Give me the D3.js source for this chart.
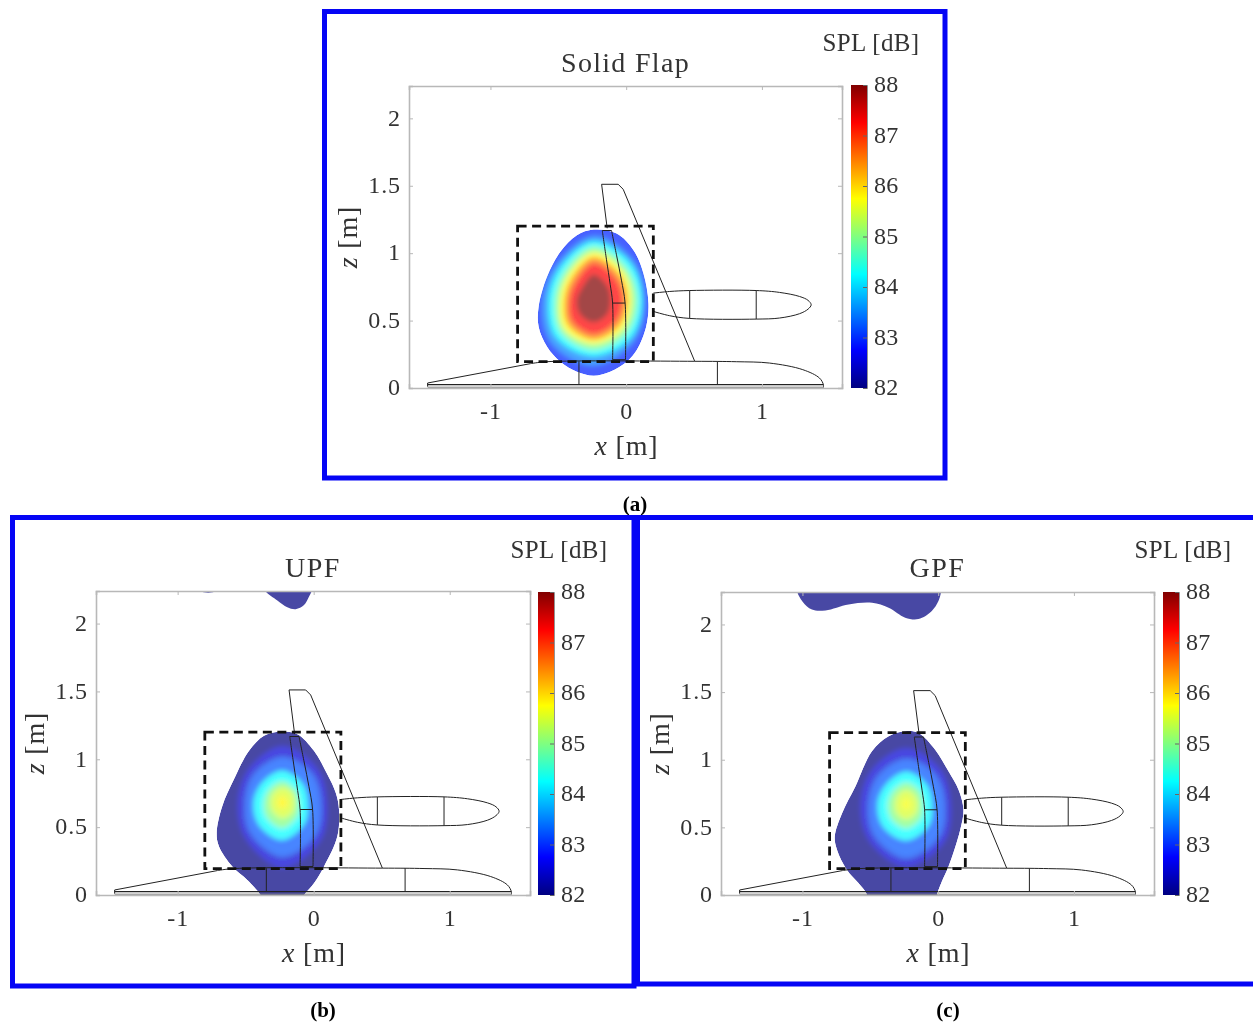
<!DOCTYPE html>
<html>
<head>
<meta charset="utf-8">
<script src="https://cdn.jsdelivr.net/npm/d3@7"></script>
<style>
html,body{margin:0;padding:0;background:#fff;overflow:hidden}
svg{display:block;filter:blur(0.4px)}
text{font-family:"Liberation Serif",serif;fill:#333}
</style>
</head>
<body>
<div id="chart"></div>
<script>
// ---------- values ----------
const titles = ["Solid Flap", "UPF", "GPF"];
const captions = ["(a)", "(b)", "(c)"];
const xTicks = [-1, 0, 1];
const zTicks = [0, 0.5, 1, 1.5, 2];
const barTicks = [82, 83, 84, 85, 86, 87, 88];
const xDomain = [-1.6, 1.59];
const zDomain = [0, 2.24];
const barDomain = [82, 88];
// jet colormap anchors
const jetLevels = [82, 82.75, 84.25, 85.75, 87.25, 88];
const jetColors = ["#000080", "#0000ff", "#00ffff", "#ffff00", "#ff0000", "#800000"];

// region of interest box [x0, x1, z0, z1]
const roiBox = [-0.8, 0.2, 0.195, 1.2];

// aircraft outline, metres
const finLine = [[-0.14,1.185],[-0.181,1.511],[-0.059,1.511],[-0.022,1.474],[0.505,0.198]];
const rudderLeftEdge = [[-0.176,1.168],[-0.145,0.951],[-0.118,0.77],[-0.10,0.63],[-0.10,0.21]];
const rudderRightEdge = [[-0.108,1.168],[-0.07,0.98],[-0.035,0.80],[-0.008,0.63],[-0.005,0.21]];
const rudderTop = [[-0.176,1.168],[-0.108,1.168]];
const rudderFoot = [[-0.10,0.21],[-0.005,0.21]];
const rudderHinge = [[-0.10,0.63],[-0.008,0.63]];
const nacelle = [[0.2,0.704],[0.321,0.716],[0.468,0.723],[0.958,0.723],[1.13,0.709],[1.277,0.679],[1.34,0.65],[1.363,0.617],[1.34,0.585],[1.277,0.551],[1.13,0.519],[0.958,0.511],[0.468,0.516],[0.321,0.536],[0.2,0.568]];
const nacelleRibs = [[[0.468,0.723],[0.468,0.516]],[[0.958,0.723],[0.958,0.511]]];
const noseLine = [[-1.463,0.01],[-1.463,0.037],[-0.708,0.18]];
const fuselage = [[-0.708,0.18],[-0.586,0.195],[0.505,0.198],[0.811,0.195],[1.056,0.185],[1.301,0.136],[1.424,0.074],[1.453,0.025],[1.453,0.003]];
const fuselageRibs = [[[-0.348,0.198],[-0.348,0.025]],[[0.672,0.198],[0.672,0.025]]];
const fuselageBase = [[-1.463,0.025],[1.453,0.025]];
const fuselageFloor = [[-1.463,0.006],[1.453,0.006]];

// blob outlines, metres
const outlineA = [[-0.24,1.175],[-0.07,1.146],[0.054,1.022],[0.127,0.85],[0.164,0.627],[0.147,0.454],[0.078,0.281],[0.005,0.195],[-0.118,0.121],[-0.24,0.091],[-0.363,0.121],[-0.485,0.195],[-0.583,0.306],[-0.645,0.454],[-0.645,0.602],[-0.583,0.825],[-0.485,1.01],[-0.363,1.133]];
const outlineB = [[-0.243,1.202],[-0.12,1.185],[0.002,1.062],[0.10,0.889],[0.162,0.753],[0.186,0.63],[0.174,0.432],[0.076,0.21],[0.002,0.086],[-0.071,0],[-0.10,-0.05],[-0.37,-0.05],[-0.39,0],[-0.488,0.111],[-0.598,0.21],[-0.696,0.358],[-0.713,0.457],[-0.672,0.654],[-0.586,0.852],[-0.475,1.062],[-0.365,1.173]];
const outlineC = [[-0.243,1.21],[-0.145,1.198],[-0.022,1.074],[0.076,0.914],[0.15,0.778],[0.186,0.63],[0.162,0.481],[0.076,0.21],[0.027,0.099],[-0.01,0],[-0.02,-0.05],[-0.54,-0.05],[-0.525,0],[-0.586,0.086],[-0.672,0.185],[-0.745,0.333],[-0.762,0.432],[-0.708,0.605],[-0.61,0.802],[-0.488,1.062],[-0.365,1.173]];

// upper blobs in b and c
const upperB1 = [[-0.365,2.30],[-0.365,2.252],[-0.267,2.17],[-0.194,2.12],[-0.132,2.106],[-0.071,2.136],[-0.034,2.2],[-0.01,2.252],[-0.01,2.30]];
const upperB2 = [[-0.843,2.30],[-0.843,2.245],[-0.775,2.228],[-0.708,2.245],[-0.708,2.30]];
const upperC1 = [[-1.04,2.30],[-1.04,2.247],[-1.0,2.17],[-0.93,2.11],[-0.83,2.104],[-0.66,2.148],[-0.487,2.16],[-0.365,2.123],[-0.243,2.05],[-0.145,2.04],[-0.047,2.1],[0.002,2.173],[0.022,2.247],[0.022,2.30]];

// peak centres, contour levels, contour radii at 8 compass directions (E, NE, N, NW, W, SW, S, SE)
const ringBearings = [0, 45, 90, 135, 180, 225, 270, 315];
const centreA = [-0.24, 0.652];
const centreB = [-0.23, 0.684];
const centreC = [-0.235, 0.674];
const baseLevelA = 82.95, baseLevelB = 82, baseLevelC = 82;
const levelsA = [83.5, 84.25, 85, 85.75, 86.5, 87.25, 88];
const ringsA = [
  [.385,.42,.48,.385,.38,.45,.49,.43],
  [.355,.385,.435,.345,.33,.39,.415,.39],
  [.32,.34,.395,.30,.285,.34,.37,.345],
  [.28,.305,.355,.265,.25,.305,.325,.305],
  [.25,.27,.32,.23,.215,.265,.295,.27],
  [.22,.235,.28,.195,.185,.23,.26,.235],
  [.125,.145,.19,.125,.125,.145,.165,.145]
];
const levelsB = [82.5, 83.25, 84.25, 85, 85.5, 85.8];
const ringsB = [
  [.33,.36,.415,.35,.33,.385,.486,.40],
  [.28,.30,.33,.29,.27,.325,.40,.34],
  [.185,.20,.23,.205,.21,.24,.277,.225],
  [.12,.13,.153,.135,.135,.16,.19,.15],
  [.09,.10,.11,.095,.09,.10,.12,.105],
  [.04,.04,.05,.04,.04,.045,.05,.045]
];
const levelsC = [82.5, 83.25, 84.25, 85, 85.5, 85.7];
const ringsC = [
  [.33,.36,.415,.36,.34,.39,.47,.40],
  [.28,.30,.33,.29,.275,.33,.40,.34],
  [.19,.205,.235,.205,.21,.24,.27,.23],
  [.12,.135,.155,.135,.135,.155,.18,.15],
  [.085,.09,.105,.09,.085,.10,.115,.10],
  [.035,.035,.045,.035,.035,.04,.045,.04]
];

// ---------- layout ----------
const W = 1253, H = 1024;
const layouts = [
  {frame:[324.5,11.5,945,478], plot:[409,842,388,86], barX:851, titleY:72, splX:871, splY:51, cap:[635,511]},
  {frame:[12.5,517.5,634,986], plot:[96,530,895,591], barX:538, titleY:577, splX:559, splY:558, cap:[323,1017]},
  {frame:[637.5,517.5,1256,984], plot:[721,1154,895,592], barX:1163, titleY:577, splX:1183, splY:558, cap:[948,1017]}
];
const panelData = [
  {centre:centreA, base:baseLevelA, levels:levelsA, rings:ringsA, outline:outlineA, extras:[]},
  {centre:centreB, base:baseLevelB, levels:levelsB, rings:ringsB, outline:outlineB, extras:[upperB1, upperB2]},
  {centre:centreC, base:baseLevelC, levels:levelsC, rings:ringsC, outline:outlineC, extras:[upperC1]}
];
const blobOpacity = 0.72;

const jet = d3.scaleLinear().domain(jetLevels).range(jetColors).clamp(true);

const svg = d3.select("#chart").append("svg").attr("width", W).attr("height", H);
const defs = svg.append("defs");
const blur = defs.append("filter").attr("id","soft").attr("x","-30%").attr("y","-30%").attr("width","160%").attr("height","160%");
blur.append("feGaussianBlur").attr("stdDeviation", 2.8);
const grad = defs.append("linearGradient").attr("id","jetBar").attr("x1",0).attr("x2",0).attr("y1",1).attr("y2",0);
grad.selectAll("stop").data(jetLevels).join("stop")
  .attr("offset", d => (d-barDomain[0])/(barDomain[1]-barDomain[0]))
  .attr("stop-color", d => jet(d));

titles.forEach((title, i) => {
  const L = layouts[i], P = panelData[i];
  const [px0, px1, py0, py1] = L.plot;
  const x = d3.scaleLinear().domain(xDomain).range([px0, px1]);
  const z = d3.scaleLinear().domain(zDomain).range([py0, py1]);
  const g = svg.append("g");

  // frame
  g.append("rect")
    .attr("x", L.frame[0]).attr("y", L.frame[1])
    .attr("width", L.frame[2]-L.frame[0]).attr("height", L.frame[3]-L.frame[1])
    .attr("fill","none").attr("stroke","#0505f5").attr("stroke-width",5);

  // clips
  const plotClip = "plot"+i, blobClip = "blob"+i;
  defs.append("clipPath").attr("id",plotClip).append("rect")
    .attr("x",px0).attr("y",py1).attr("width",px1-px0).attr("height",py0-py1);
  const smooth = d3.line().x(d=>x(d[0])).y(d=>z(d[1])).curve(d3.curveCatmullRomClosed.alpha(0.5));
  const open = d3.line().x(d=>x(d[0])).y(d=>z(d[1])).curve(d3.curveLinear);
  const soft = d3.line().x(d=>x(d[0])).y(d=>z(d[1])).curve(d3.curveCatmullRom.alpha(0.5));
  defs.append("clipPath").attr("id",blobClip).append("path").attr("d",smooth(P.outline));

  // field
  const field = g.append("g").attr("clip-path",`url(#${plotClip})`).attr("opacity",blobOpacity);
  const blob = field.append("g").attr("clip-path",`url(#${blobClip})`);
  blob.append("path").attr("d",smooth(P.outline)).attr("fill",jet(P.base));
  const ringGroup = blob.append("g").attr("filter","url(#soft)");
  ringGroup.selectAll("path").data(P.rings).join("path")
    .attr("fill",(d,k)=>jet(P.levels[k]))
    .attr("d",radii=>smooth(radii.map((r,k)=>{
      const a = ringBearings[k]*Math.PI/180;
      return [P.centre[0]+r*Math.cos(a), P.centre[1]+r*Math.sin(a)];
    })));
  field.selectAll("path.extra").data(P.extras).join("path")
    .attr("class","extra").attr("d",soft).attr("fill",jet(82));

  // aircraft
  const craft = g.append("g").attr("clip-path",`url(#${plotClip})`)
    .attr("fill","none").attr("stroke","#222").attr("stroke-width",1);
  craft.append("path").attr("d",open(finLine));
  craft.append("path").attr("d",soft(rudderLeftEdge));
  craft.append("path").attr("d",soft(rudderRightEdge));
  craft.append("path").attr("d",open(rudderTop));
  craft.append("path").attr("d",open(rudderFoot));
  craft.append("path").attr("d",open(rudderHinge));
  craft.append("path").attr("d",soft(nacelle));
  nacelleRibs.forEach(r=>craft.append("path").attr("d",open(r)));
  craft.append("path").attr("d",open(noseLine));
  craft.append("path").attr("d",soft(fuselage));
  fuselageRibs.forEach(r=>craft.append("path").attr("d",open(r)));
  craft.append("path").attr("d",open(fuselageBase)).attr("stroke-width",1.4);
  craft.append("path").attr("d",open(fuselageFloor)).attr("stroke","#777");

  // axes
  const boxColor = "#b8b8b8";
  const styleAxis = sel => {
    sel.select(".domain").attr("stroke",boxColor).attr("stroke-width",1.6);
    sel.selectAll(".tick line").attr("stroke",boxColor);
    sel.selectAll(".tick text").attr("font-size",24).attr("font-family",null).attr("letter-spacing",0.9);
  };
  g.append("g").attr("transform",`translate(0,${py0})`)
    .call(d3.axisBottom(x).tickValues(xTicks).tickSize(-4).tickPadding(14).tickFormat(d=>String(d)))
    .call(styleAxis);
  g.append("g").attr("transform",`translate(${px0},0)`)
    .call(d3.axisLeft(z).tickValues(zTicks).tickSize(-4).tickPadding(8).tickFormat(d=>String(d)))
    .call(styleAxis)
    .call(s=>s.selectAll(".tick text").attr("dy","0.28em"));
  g.append("g").attr("transform",`translate(0,${py1})`)
    .call(d3.axisTop(x).tickValues(xTicks).tickSize(-4).tickFormat(""))
    .call(styleAxis);
  g.append("g").attr("transform",`translate(${px1},0)`)
    .call(d3.axisRight(z).tickValues(zTicks).tickSize(-4).tickFormat(""))
    .call(styleAxis);

  // dashed box
  g.append("rect")
    .attr("x",x(roiBox[0])).attr("y",z(roiBox[3]))
    .attr("width",x(roiBox[1])-x(roiBox[0])).attr("height",z(roiBox[2])-z(roiBox[3]))
    .attr("fill","none").attr("stroke","#111").attr("stroke-width",2.8).attr("stroke-dasharray","9 5.5");

  // colour bar
  const bar = d3.scaleLinear().domain(barDomain).range([py0, py0-303]);
  g.append("rect").attr("x",L.barX).attr("y",py0-303).attr("width",16).attr("height",303).attr("fill","url(#jetBar)");
  g.append("g").attr("transform",`translate(${L.barX+16},0)`)
    .call(d3.axisRight(bar).tickValues(barTicks).tickSize(-4).tickPadding(7).tickFormat(d=>String(d)))
    .call(s=>{
      s.select(".domain").attr("stroke","#777").attr("stroke-width",0.8);
      s.selectAll(".tick line").attr("stroke","#666");
      s.selectAll(".tick text").attr("font-size",24).attr("font-family",null).attr("dy","0.28em").attr("letter-spacing",0.3);
    });

  // texts
  g.append("text").attr("x",(px0+px1)/2).attr("y",L.titleY).attr("text-anchor","middle")
    .attr("font-size",28).attr("letter-spacing",title.length>3?1.3:1.5).text(title);
  g.append("text").attr("x",L.splX).attr("y",L.splY).attr("text-anchor","middle")
    .attr("font-size",25).attr("letter-spacing",0.35).text("SPL [dB]");
  const xl = g.append("text").attr("x",(px0+px1)/2+1).attr("y",py0+67).attr("text-anchor","middle")
    .attr("font-size",28).attr("letter-spacing",0.8);
  xl.append("tspan").attr("font-style","italic").text("x");
  xl.append("tspan").text(" [m]");
  const zl = g.append("text").attr("text-anchor","middle").attr("font-size",28).attr("letter-spacing",0.8)
    .attr("transform",`translate(${px0-52},${(py0+py1)/2}) rotate(-90)`);
  zl.append("tspan").attr("font-style","italic").text("z");
  zl.append("tspan").text(" [m]");
  g.append("text").attr("x",L.cap[0]).attr("y",L.cap[1]).attr("text-anchor","middle")
    .attr("font-size",21).attr("font-weight","bold").style("fill","#000").text(captions[i]);
});
</script>
</body>
</html>
